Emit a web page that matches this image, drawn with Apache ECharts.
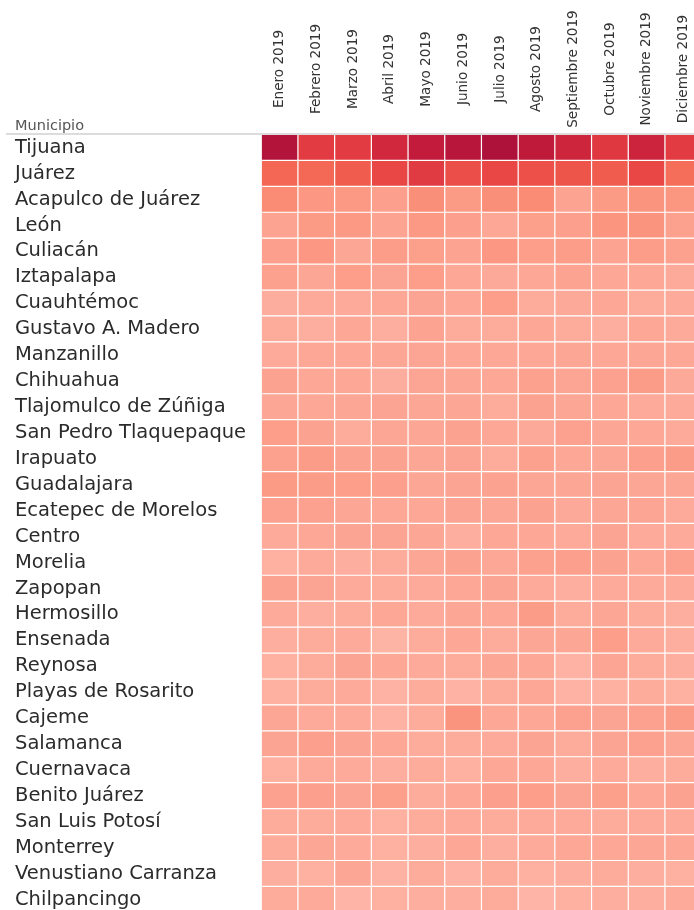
<!DOCTYPE html>
<html>
<head>
<meta charset="utf-8">
<script src="https://cdn.jsdelivr.net/npm/echarts@6/dist/echarts.min.js"></script>
<style>
html,body{margin:0;padding:0;background:#fff;width:694px;height:910px;overflow:hidden;}
#chart{width:706px;height:916px;}
</style>
</head>
<body>
<div id="chart"></div>
<script>
const meses = ["Enero 2019","Febrero 2019","Marzo 2019","Abril 2019","Mayo 2019","Junio 2019","Julio 2019","Agosto 2019","Septiembre 2019","Octubre 2019","Noviembre 2019","Diciembre 2019"];
const municipios = ["Tijuana","Juárez","Acapulco de Juárez","León","Culiacán","Iztapalapa","Cuauhtémoc","Gustavo A. Madero","Manzanillo","Chihuahua","Tlajomulco de Zúñiga","San Pedro Tlaquepaque","Irapuato","Guadalajara","Ecatepec de Morelos","Centro","Morelia","Zapopan","Hermosillo","Ensenada","Reynosa","Playas de Rosarito","Cajeme","Salamanca","Cuernavaca","Benito Juárez","San Luis Potosí","Monterrey","Venustiano Carranza","Chilpancingo"];
// values per municipio (rows), one per month (Enero..Diciembre)
const valores = [
  [195,142,142,164,180,191,200,182,168,146,169,142],
  [105,103,115,132,144,126,132,124,121,114,132,99],
  [70,60,58,51,67,56,67,70,47,56,63,61],
  [47,56,58,47,58,51,42,52,51,62,63,50],
  [51,60,44,54,52,47,60,53,54,47,54,50],
  [50,44,53,46,53,42,41,42,47,42,42,40],
  [37,40,40,42,46,42,53,38,41,42,38,40],
  [38,36,43,36,47,38,38,42,38,36,42,40],
  [40,42,42,44,45,42,42,42,44,42,44,43],
  [48,42,42,37,45,44,42,50,45,49,55,41],
  [44,42,44,46,44,44,38,48,44,42,40,40],
  [53,48,38,44,44,48,42,41,49,44,42,40],
  [50,55,48,48,44,46,38,50,42,44,51,55],
  [57,55,53,51,44,46,48,44,44,46,44,44],
  [49,49,44,42,42,46,44,48,41,44,45,40],
  [40,42,46,46,44,36,42,42,40,46,40,40],
  [34,40,36,38,44,48,42,50,51,48,42,49],
  [48,46,40,38,40,42,46,40,36,40,40,40],
  [40,36,38,42,40,44,42,55,38,44,38,36],
  [36,38,40,30,38,42,38,44,44,53,40,36],
  [34,38,46,42,40,38,44,42,32,45,38,36],
  [34,38,40,32,38,32,38,42,32,34,38,34],
  [44,40,40,32,38,63,42,42,49,46,49,55],
  [46,51,46,42,38,38,40,46,38,46,49,44],
  [34,40,40,36,38,34,42,42,36,40,36,38],
  [49,51,46,52,38,42,51,53,46,52,42,48],
  [38,38,40,34,38,40,38,40,40,38,40,40],
  [38,44,40,34,36,42,36,40,42,42,44,42],
  [36,34,44,32,38,32,38,34,36,38,36,34],
  [38,40,29,34,36,36,38,29,34,36,36,40]
];
const paleta = ["#ffbeb2","#feb4a6","#fdab9b","#fca290","#fb9984","#fa8f79","#f9856e","#f77b66","#f5715d","#f36754","#f05c4d","#ec5049","#e74545","#e13b42","#da323f","#d3293d","#ca223c","#c11a3b","#b8163a","#ae123a"];

const data = [];
valores.forEach((fila, i) => fila.forEach((v, j) => data.push([j, i, v])));

const gridLeft = 261.5, gridTop = 134.7, cellW = 36.7, cellH = 25.93;

const chart = echarts.init(document.getElementById('chart'), null, {renderer: 'canvas'});
chart.setOption({
  backgroundColor: '#ffffff',
  animation: false,
  grid: {left: gridLeft, top: gridTop, width: cellW * meses.length, height: cellH * municipios.length},
  xAxis: {
    type: 'category', data: meses, position: 'top',
    axisLine: {show: false}, axisTick: {show: false}, splitLine: {show: false},
    axisLabel: {
      interval: 0, rotate: -90, align: 'center', verticalAlign: 'middle',
      margin: gridTop - 69, fontFamily: 'DejaVu Sans', fontSize: 13.6, color: '#333'
    }
  },
  yAxis: {
    type: 'category', data: municipios, inverse: true,
    axisLine: {show: false}, axisTick: {show: false}, splitLine: {show: false},
    axisLabel: {
      interval: 0, align: 'left', margin: gridLeft - 15, padding: [2, 0, 0, 0],
      fontFamily: 'DejaVu Sans', fontSize: 19.5, color: '#2b2b2b'
    }
  },
  visualMap: {
    show: false, type: 'continuous', dimension: 2, min: 20, max: 200,
    inRange: {color: paleta}
  },
  graphic: [
    {type: 'text', left: 15, top: 118.5, style: {text: 'Municipio', font: '14.5px "DejaVu Sans"', fill: '#555'}},
    {type: 'line', shape: {x1: 6, y1: 134, x2: 706, y2: 134}, style: {stroke: '#d0d0d0', lineWidth: 1.5}, z: 10}
  ],
  series: [{
    type: 'heatmap', data: data,
    itemStyle: {borderColor: '#ffffff', borderWidth: 1.2},
    emphasis: {disabled: true},
    label: {show: false}
  }]
});
</script>
</body>
</html>
